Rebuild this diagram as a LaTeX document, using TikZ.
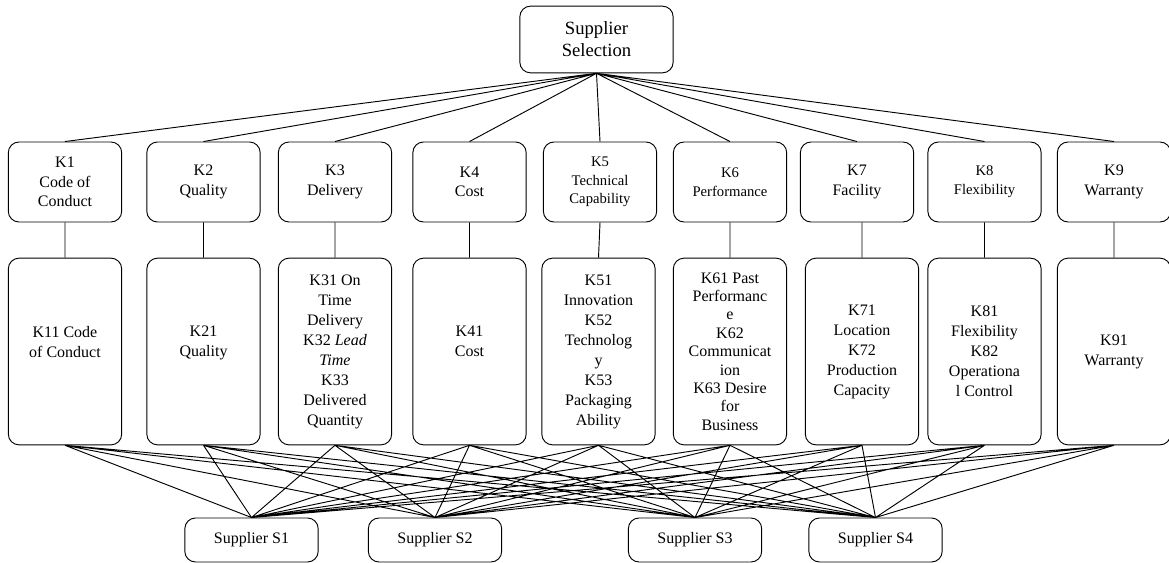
\documentclass[tikz,border=0pt]{standalone}
\usepackage{fontspec}
\setmainfont{Liberation Serif}
\begin{document}
\begin{tikzpicture}[x=0.75pt, y=-0.75pt, line width=0.7pt,
	box/.style={draw, rounded corners=8pt, align=center, inner sep=2pt, font=\fontsize{12}{14.5}\selectfont},
	crit/.style={box, minimum width=85pt, minimum height=60pt},
	sub/.style={box, minimum width=85pt, minimum height=140pt, font=\fontsize{12}{15}\selectfont},
	supp/.style={box, minimum width=100pt, minimum height=33pt}]
				\useasboundingbox (0,0) rectangle (1169,563);
				% goal
				\node[box, minimum width=115pt, minimum height=50pt, font=\fontsize{14}{16.5}\selectfont] (goal) at (596.5,39.5) {Supplier\\Selection};
				% criteria
				\node[crit] (K1) at (65,182) {K1\\Code of\\Conduct};
				\node[crit] (K2) at (203.5,182) {K2\\Quality};
				\node[crit] (K3) at (335,182) {K3\\Delivery};
				\node[crit] (K4) at (469.5,182) {K4\\Cost};
				\node[crit, font=\fontsize{11}{14}\selectfont] (K5) at (600,182) {K5\\Technical\\Capability};
				\node[crit, font=\fontsize{11}{14}\selectfont] (K6) at (730,182) {K6\\Performance};
				\node[crit] (K7) at (857,182) {K7\\Facility};
				\node[crit, font=\fontsize{11}{14}\selectfont] (K8) at (984.5,182) {K8\\Flexibility};
				\node[crit] (K9) at (1114,182) {K9\\Warranty};
				% sub-criteria
				\node[sub] (K11) at (65,351.5) {K11 Code\\of Conduct\\\mbox{}};
				\node[sub] (K21) at (203.5,351.5) {K21\\Quality\\\mbox{}};
				\node[sub] (K31) at (335,351.5) {K31 On\\Time\\Delivery\\K32 \textit{Lead}\\\textit{Time}\\K33\\Delivered\\Quantity};
				\node[sub] (K41) at (469.5,351.5) {K41\\Cost\\\mbox{}};
				\node[sub] (K51) at (598.5,351.5) {K51\\Innovation\\K52\\Technolog\\y\\K53\\Packaging\\Ability};
				\node[sub, font=\fontsize{12}{13.8}\selectfont] (K61) at (730,351.5) {K61 Past\\Performanc\\e\\K62\\Communicat\\ion\\K63 Desire\\for\\Business};
				\node[sub] (K71) at (862,351.5) {K71\\Location\\K72\\Production\\Capacity};
				\node[sub] (K81) at (984.5,351.5) {K81\\Flexibility\\K82\\Operationa\\l Control};
				\node[sub] (K91) at (1114,351.5) {K91\\Warranty};
				% alternatives
				\node[supp] (S1) at (251.5,540) {Supplier S1};
				\node[supp] (S2) at (435,540) {Supplier S2};
				\node[supp] (S3) at (695,540) {Supplier S3};
				\node[supp] (S4) at (875.5,540) {Supplier S4};
				% goal to criteria
				\draw (goal.south)--(K1.north) (goal.south)--(K2.north) (goal.south)--(K3.north)
					(goal.south)--(K4.north) (goal.south)--(K5.north) (goal.south)--(K6.north)
					(goal.south)--(K7.north) (goal.south)--(K8.north) (goal.south)--(K9.north);
				% criteria to sub-criteria
				\draw (K1.south)--(K11.north) (K2.south)--(K21.north) (K3.south)--(K31.north)
					(K4.south)--(K41.north) (K5.south)--(K51.north) (K6.south)--(K61.north)
					(K71.north)--(K71.north |- K7.south) (K8.south)--(K81.north) (K9.south)--(K91.north);
				% sub-criteria to alternatives
				\draw (K11.south)--(S1.north) (K11.south)--(S2.north) (K11.south)--(S3.north) (K11.south)--(S4.north)
					(K21.south)--(S1.north) (K21.south)--(S2.north) (K21.south)--(S3.north) (K21.south)--(S4.north)
					(K31.south)--(S1.north) (K31.south)--(S2.north) (K31.south)--(S3.north) (K31.south)--(S4.north)
					(K41.south)--(S1.north) (K41.south)--(S2.north) (K41.south)--(S3.north) (K41.south)--(S4.north)
					(K51.south)--(S1.north) (K51.south)--(S2.north) (K51.south)--(S3.north) (K51.south)--(S4.north)
					(K61.south)--(S1.north) (K61.south)--(S2.north) (K61.south)--(S3.north) (K61.south)--(S4.north)
					(K71.south)--(S1.north) (K71.south)--(S2.north) (K71.south)--(S3.north) (K71.south)--(S4.north)
					(K81.south)--(S1.north) (K81.south)--(S2.north) (K81.south)--(S3.north) (K81.south)--(S4.north)
					(K91.south)--(S1.north) (K91.south)--(S2.north) (K91.south)--(S3.north) (K91.south)--(S4.north);
\end{tikzpicture}
\end{document}
